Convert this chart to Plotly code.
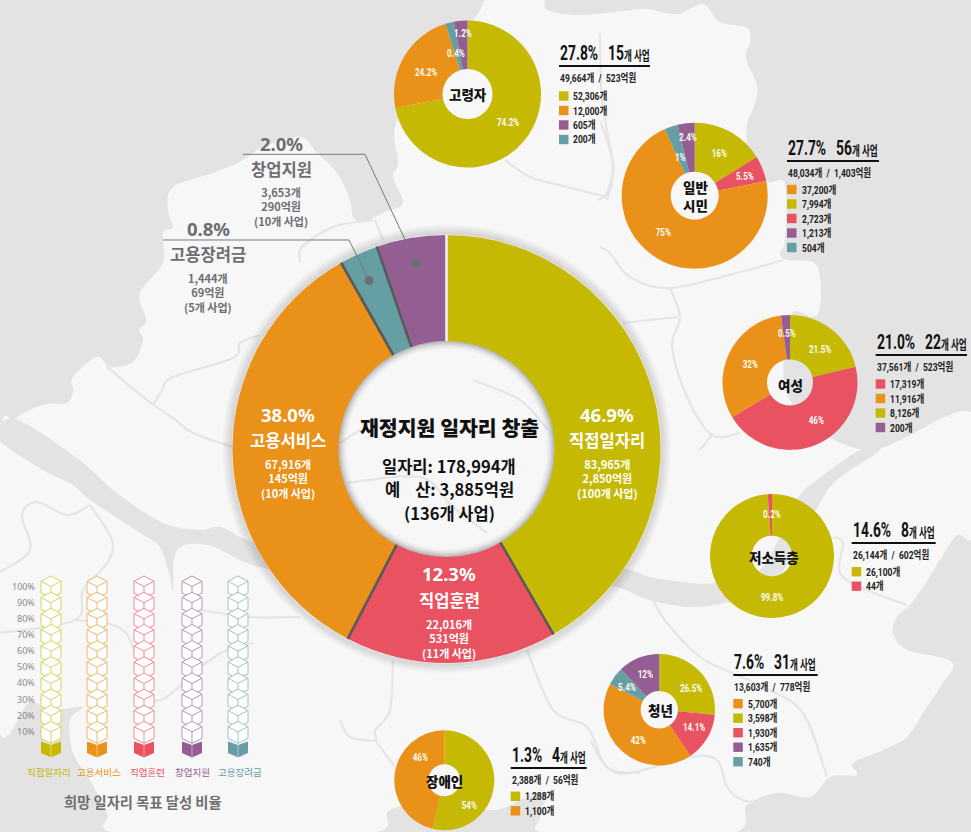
import math
import plotly.graph_objects as go

W, H = 971, 832
KR = "Noto Sans CJK KR"
NARROW = "Liberation Sans Narrow, Roboto, Noto Sans CJK KR"
YEL, ORG, RED, PUR, TEA = "#c5b904", "#e99118", "#e95260", "#945e92", "#659fa4"
GREY = "#6d6e71"

# ---- main ring: drawn sweep of each sector (degrees)
main_names = ["직접일자리", "직업훈련", "고용서비스", "고용장려금", "창업지원"]
main_sweep = [150, 57.5, 123, 10.5, 19]
main_colors = [YEL, RED, ORG, TEA, PUR]
main_pct = ["46.9%", "12.3%", "38.0%", "0.8%", "2.0%"]
main_jobs = ["83,965개", "22,016개", "67,916개", "1,444개", "3,653개"]
main_budget = ["2,850억원", "531억원", "145억원", "69억원", "290억원"]
main_projects = ["(100개 사업)", "(11개 사업)", "(10개 사업)", "(5개 사업)", "(10개 사업)"]

# ---- small pies: drawn sweeps in degrees, and printed labels
goryeong_sweep = [259, 83.6, 6.7, 10.7]
ilban_sweep = [58, 20.4, 257.4, 10.6, 13.6]
yeoseong_sweep = [76.5, 162.6, 113.2, 7.7]
jeoso_sweep = [356, 4]
cheongnyeon_sweep = [95.1, 51, 151.5, 18.9, 43.5]
jangae_sweep = [193.9, 166.1]

SL = "&nbsp;&nbsp;/&nbsp;&nbsp;"
pies = [
    dict(name="고령자", c=(467.5, 94), r=73.5, rh=25, sweep=goryeong_sweep, col=[YEL, ORG, TEA, PUR],
         pct=["74.2%", "24.2%", "0.4%", "1.2%"], pos=[(508, 122), (426, 72), (456, 53), (463, 34)],
         lab=[("고령자", 468, 94)], head=(559, 53, 650), top=("27.8%", "15", 48), jobs="49,664개" + SL + "523억원",
         sw=96, tx=572, leg=[("52,306개", YEL), ("12,000개", ORG), ("605개", PUR), ("200개", TEA)]),
    dict(name="일반시민", c=(694.7, 195.7), r=73, rh=24, sweep=ilban_sweep, col=[YEL, RED, ORG, TEA, PUR],
         pct=["16%", "5.5%", "75%", "1%", "2.4%"], pos=[(719, 153), (745, 177), (663, 232), (680, 157), (688, 137)],
         lab=[("일반<br>시민", 695, 196)], head=(787, 148, 879), top=("27.7%", "56", 48),
         jobs="48,034개" + SL + "1,403억원", sw=189.5, tx=801,
         leg=[("37,200개", ORG), ("7,994개", YEL), ("2,723개", RED), ("1,213개", PUR), ("504개", TEA)]),
    dict(name="여성", c=(790, 382.4), r=67.5, rh=23, sweep=yeoseong_sweep, col=[YEL, RED, ORG, PUR],
         pct=["21.5%", "46%", "32%", "0.5%"], pos=[(820, 350), (816, 420), (750, 364), (787, 333)],
         lab=[("여성", 790, 385)], head=(875.7, 342, 967), top=("21.0%", "22", 48), jobs="37,561개" + SL + "523억원",
         sw=384, tx=889, leg=[("17,319개", RED), ("11,916개", ORG), ("8,126개", YEL), ("200개", PUR)]),
    dict(name="저소득층", c=(772, 556), r=62, rh=20.3, sweep=jeoso_sweep, col=[YEL, RED],
         pct=["0.2%", "99.8%"], pos=[(772, 514), (772, 597)],
         lab=[("저소득층", 774, 557)], head=(851.7, 530, 935.7), top=("14.6%", "8", 48), jobs="26,144개" + SL + "602억원",
         sw=571.7, tx=865, leg=[("26,100개", YEL), ("44개", RED)]),
    dict(name="청년", c=(659.3, 709.7), r=55.7, rh=18.7, sweep=cheongnyeon_sweep, col=[YEL, RED, ORG, TEA, PUR],
         pct=["26.5%", "14.1%", "42%", "5.4%", "12%"], pos=[(691, 688), (694, 727), (638, 740), (627, 687), (645, 674)],
         lab=[("청년", 660, 710)], head=(733.3, 662, 817.7), top=("7.6%", "31", 40), jobs="13,603개" + SL + "778억원",
         sw=703.7, tx=746.7,
         leg=[("5,700개", ORG), ("3,598개", YEL), ("1,930개", RED), ("1,635개", PUR), ("740개", TEA)]),
    dict(name="장애인", c=(444.3, 780.3), r=50, rh=16, sweep=jangae_sweep, col=[YEL, ORG],
         pct=["54%", "46%"], pos=[(469, 805), (420, 757)],
         lab=[("장애인", 444, 781)], head=(510.7, 755, 586.7), top=("1.3%", "4", 40), jobs="2,388개" + SL + "56억원",
         sw=796.3, tx=524, leg=[("1,288개", YEL), ("1,100개", ORG)]),
]

# ---- goal-achievement columns
goal_names = ["직접일자리", "고용서비스", "직업훈련", "창업지원", "고용장려금"]
goal_colors = [YEL, ORG, RED, PUR, TEA]
goal_lines = ["#d9d35f", "#f0b56a", "#ee8d97", "#b795b5", "#a0c3c6"]
goal_ticks = ["100%", "90%", "80%", "70%", "60%", "50%", "40%", "30%", "20%", "10%"]


def X(x): return x / W
def Y(y): return 1 - y / H


def smooth(pts, closed=True):
    """Catmull-Rom curve through map outline points, as an SVG path in paper units."""
    n = len(pts)
    d = f"M{X(pts[0][0]):.5f},{Y(pts[0][1]):.5f}"
    last = n if closed else n - 1
    for i in range(last):
        if closed:
            p0, p1, p2, p3 = pts[(i - 1) % n], pts[i], pts[(i + 1) % n], pts[(i + 2) % n]
        else:
            p0, p1, p2, p3 = pts[max(i - 1, 0)], pts[i], pts[i + 1], pts[min(i + 2, n - 1)]
        c1 = (p1[0] + (p2[0] - p0[0]) / 6, p1[1] + (p2[1] - p0[1]) / 6)
        c2 = (p2[0] - (p3[0] - p1[0]) / 6, p2[1] - (p3[1] - p1[1]) / 6)
        d += f" C{X(c1[0]):.5f},{Y(c1[1]):.5f} {X(c2[0]):.5f},{Y(c2[1]):.5f} {X(p2[0]):.5f},{Y(p2[1]):.5f}"
    return d + (" Z" if closed else "")


def poly(pts):
    return "M" + " L".join(f"{X(a):.5f},{Y(b):.5f}" for a, b in pts) + " Z"


shapes, notes = [], []


def note(text, x, y, size, color="#111", family=KR, weight=700, anchor="center"):
    notes.append(dict(text=text, x=X(x), y=Y(y), xref="paper", yref="paper", showarrow=False, xanchor=anchor,
                      yanchor="middle", align=anchor, borderpad=0,
                      font=dict(family=family, size=size, color=color, weight=weight)))


# ---- map background
land = [(0, 445), (15, 419), (43, 405), (67, 403), (73, 390), (73, 377), (97, 357), (110, 367), (133, 362),
        (143, 340), (139, 330), (146, 320), (140, 293), (163, 263), (163, 233), (173, 227), (168, 210), (173, 187),
        (213, 173), (243, 160), (263, 147), (300, 137), (317, 153), (337, 173), (350, 200), (353, 217), (363, 222),
        (385, 212), (403, 203), (393, 177), (398, 163), (397, 120), (440, 60), (477, 15), (490, -2), (540, -2),
        (547, 10), (575, 15), (605, 13), (630, 10), (648, 9), (677, 14), (703, 4), (720, 22), (747, 28), (750, 42),
        (746, 58), (757, 85), (755, 103), (747, 125), (747, 150), (745, 170), (767, 182), (785, 184), (785, 240),
        (780, 253), (787, 260), (813, 262), (820, 277), (820, 307), (813, 317), (790, 317), (790, 400), (867, 450),
        (973, 413), (973, 532), (957, 535), (940, 560), (923, 587), (910, 605), (897, 617), (893, 633), (907, 650),
        (952, 662), (940, 687), (923, 713), (907, 737), (883, 750), (853, 763), (857, 775), (830, 777), (810, 797),
        (777, 793), (747, 805), (727, 834), (553, 834), (540, 817), (547, 793), (527, 797), (493, 810), (440, 800),
        (390, 810), (363, 834), (127, 834), (107, 813), (90, 780), (73, 753), (70, 720), (83, 707), (50, 710),
        (30, 702), (-2, 723)]
shapes.append(dict(type="path", path=smooth(land), xref="paper", yref="paper", fillcolor="#f7f7f7",
                   line=dict(width=0), layer="below"))
rivers = [
    [(-2, 438), (15, 419), (77, 458), (117, 493), (163, 523), (200, 530), (220, 527), (247, 540), (300, 560),
     (300, 575), (260, 567), (240, 560), (207, 545), (177, 550), (173, 590), (170, 577), (160, 547), (140, 533),
     (90, 500), (73, 485), (43, 470)],
    [(600, 563), (630, 570), (650, 577), (683, 582), (713, 583), (760, 570), (797, 500), (817, 480), (860, 450),
     (880, 450), (837, 480), (817, 508), (770, 590), (730, 602), (690, 607), (650, 600), (617, 587), (590, 585)],
]
for r in rivers:
    shapes.append(dict(type="path", path=smooth(r), xref="paper", yref="paper", fillcolor="#e3e3e3",
                       line=dict(width=0), layer="below"))
roads = [
    [(107, 367), (147, 400), (173, 418), (193, 433), (233, 447)], [(153, 405), (162, 390), (173, 377), (233, 358), (240, 343), (260, 335)],
    [(90, 505), (67, 515), (37, 502), (22, 515), (30, 550), (0, 572)], [(90, 505), (112, 540), (107, 563), (83, 590), (75, 620), (0, 633)],
    [(75, 620), (125, 632), (153, 700), (200, 667), (227, 650), (253, 643)], [(200, 610), (250, 617), (300, 617)],
    [(653, 600), (667, 623), (700, 657), (730, 672), (763, 687), (803, 713), (827, 777)],
    [(590, 740), (607, 767), (630, 773), (690, 757), (717, 760), (727, 787), (743, 800), (777, 805)],
    [(393, 660), (390, 710), (375, 730), (375, 740), (350, 737), (340, 720)], [(375, 740), (395, 767)],
    [(527, 650), (553, 710), (587, 727), (607, 767), (640, 773)], [(833, 537), (843, 543), (840, 573), (867, 590), (907, 605)],
    [(600, 120), (613, 163), (607, 193), (598, 200)], [(600, 247), (610, 253), (630, 277), (670, 288), (740, 272), (783, 260)],
    [(670, 288), (680, 317), (672, 347), (687, 397), (712, 435), (740, 433)], [(623, 323), (677, 317)], [(700, 450), (712, 435)],
    [(300, 262), (302, 247), (333, 227), (373, 220)], [(375, 220), (383, 240)],
    [(600, 33), (602, 100), (613, 167), (607, 200)], [(505, 160), (530, 177), (567, 187), (607, 197)],
    [(473, 380), (520, 400), (548, 430)], [(347, 483), (420, 477), (453, 507), (487, 533)], [(340, 443), (360, 430)],
]
for r in roads:
    shapes.append(dict(type="path", path=smooth(r, False), xref="paper", yref="paper", fillcolor="rgba(0,0,0,0)",
                       line=dict(color="#e5e5e5", width=2.2), layer="below"))

# ---- ring shadow
CX, CY, R, RH = 446.5, 449, 214, 108
for i in range(1, 11):
    a = 0.11 * (1 - i / 11)
    shapes.append(dict(type="circle", xref="paper", yref="paper", x0=X(CX - R - i), x1=X(CX + R + i),
                       y0=Y(CY + R + i), y1=Y(CY - R - i), line=dict(color=f"rgba(0,0,0,{a:.3f})", width=1.5),
                       layer="below"))
for i in range(0, 10):
    a = 0.2 * (1 - i / 10) ** 2
    shapes.append(dict(type="circle", xref="paper", yref="paper", x0=X(CX - RH + i), x1=X(CX + RH - i),
                       y0=Y(CY + RH - i), y1=Y(CY - RH + i), line=dict(color=f"rgba(0,0,0,{a:.3f})", width=1.5),
                       layer="below"))

# ---- pies
traces = [go.Pie(values=main_sweep, labels=main_names, sort=False, direction="clockwise", rotation=0,
                 hole=RH / R, textinfo="none", hoverinfo="label", showlegend=False,
                 marker=dict(colors=main_colors, line=dict(width=0)),
                 domain=dict(x=[X(CX - R), X(CX + R)], y=[Y(CY + R), Y(CY - R)]))]
for p in pies:
    (cx, cy), r = p["c"], p["r"]
    traces.append(go.Pie(values=p["sweep"], labels=p["pct"], sort=False, direction="clockwise", rotation=0,
                         hole=p["rh"] / r, textinfo="none", hoverinfo="label", showlegend=False,
                         marker=dict(colors=p["col"], line=dict(width=0)),
                         domain=dict(x=[X(cx - r), X(cx + r)], y=[Y(cy + r), Y(cy - r)])))
    for t, (x, y) in zip(p["pct"], p["pos"]):
        note(t, x, y, 11, "#fbfbf0", NARROW)
    for t, x, y in p["lab"]:
        note(t, x, y, 13.5, "#111", weight=900)
    hx, hy, hend = p["head"]
    note(p["top"][0], hx, hy, 21, "#111", NARROW, anchor="left")
    note(f'{p["top"][1]}<span style="font-size:13px">개 사업</span>', hx + p["top"][2], hy, 21, "#111", NARROW, anchor="left")
    shapes.append(dict(type="rect", xref="paper", yref="paper", x0=X(hx), x1=X(hend), y0=Y(hy + 14), y1=Y(hy + 12),
                       fillcolor="#111", line=dict(width=0), layer="above"))
    note(p["jobs"], hx, hy + 25, 11.5, "#222", NARROW, anchor="left")
    for i, (t, c) in enumerate(p["leg"]):
        ly = p["sw"] + i * 14.5
        shapes.append(dict(type="rect", xref="paper", yref="paper", x0=X(hx), x1=X(hx + 9.5), y0=Y(ly + 4.7), y1=Y(ly - 4.7),
                           fillcolor=c, line=dict(width=0), layer="above"))
        note(t, p["tx"], ly, 11.5, "#222", NARROW, anchor="left")

# ---- separators on the main ring, placed from its sweeps
cum = 0
for i, s in enumerate(main_sweep):
    cum += s
    a = math.radians(cum)
    light = i == len(main_sweep) - 1
    x0, y0 = CX + RH * math.sin(a), CY - RH * math.cos(a)
    x1, y1 = CX + R * math.sin(a), CY - R * math.cos(a)
    shapes.append(dict(type="line", xref="paper", yref="paper", x0=X(x0), y0=Y(y0), x1=X(x1), y1=Y(y1),
                       line=dict(color="#f0f0f0" if light else "#5a5a5c", width=2.6), layer="above"))

# ---- leader lines
for pts, dot in [([(243, 154.3), (365, 154.3), (416, 263)], (416, 263)), ([(163, 240), (349, 240), (369, 280)], (369, 280.5))]:
    d = "M" + " L".join(f"{X(a):.5f},{Y(b):.5f}" for a, b in pts)
    shapes.append(dict(type="path", path=d, xref="paper", yref="paper", line=dict(color="#77787b", width=1), layer="above"))
    shapes.append(dict(type="circle", xref="paper", yref="paper", x0=X(dot[0] - 4.5), x1=X(dot[0] + 4.5), y0=Y(dot[1] + 4.5),
                       y1=Y(dot[1] - 4.5), fillcolor=GREY, line=dict(width=0), layer="above"))

# ---- ring text
note("재정지원 일자리 창출", 449, 427, 20.5, weight=900)
note("일자리: 178,994개", 449, 466, 16.5)
note("예&nbsp;&nbsp;&nbsp;&nbsp;산: 3,885억원", 449, 489, 16.5)
note("(136개 사업)", 449, 513, 16.5)
ring_text = [(0, 607, (414, 440, 478.5), "#ffffff"), (2, 288, (414, 440, 478.5), "#ffffff"),
             (1, 449, (573, 600, 638), "#ffffff"), (4, 281, (143, 169, 206.5), GREY),
             (3, 208, (228, 254, 292), GREY)]
for i, x, ys, c in ring_text:
    note(main_pct[i], x, ys[0], 18.5, c, "Noto Sans, Noto Sans CJK KR")
    note(main_names[i], x, ys[1], 16.6, c)
    note(f"{main_jobs[i]}<br>{main_budget[i]}<br>{main_projects[i]}", x, ys[2], 11, c)

# ---- goal columns
col_x = [51, 97, 144, 192, 238]
lab_x = [49, 99, 147, 192, 240]
STEP = 16.15
for cx, lx, name, fill, ln in zip(col_x, lab_x, goal_names, goal_colors, goal_lines):
    for k in range(10):
        t = 576 + k * STEP
        hexa = [(cx, t), (cx + 10, t + 5.3), (cx + 10, t + 17), (cx, t + 22), (cx - 10, t + 17), (cx - 10, t + 5.3)]
        shapes.append(dict(type="path", path=poly(hexa), xref="paper", yref="paper", fillcolor="#ffffff",
                           line=dict(color=ln, width=1), layer="below"))
        v = "M" + " L".join(f"{X(a):.5f},{Y(b):.5f}" for a, b in [(cx - 10, t + 5.3), (cx, t + 10.5), (cx + 10, t + 5.3)])
        shapes.append(dict(type="path", path=v, xref="paper", yref="paper", line=dict(color=ln, width=1), layer="below"))
        v = "M" + " L".join(f"{X(a):.5f},{Y(b):.5f}" for a, b in [(cx, t + 10.5), (cx, t + 22)])
        shapes.append(dict(type="path", path=v, xref="paper", yref="paper", line=dict(color=ln, width=1), layer="below"))
    t = 738
    hexa = [(cx, t + 7), (cx + 10, t + 3.5), (cx + 10, t + 15), (cx, t + 19.5), (cx - 10, t + 15), (cx - 10, t + 3.5)]
    shapes.append(dict(type="path", path=poly(hexa), xref="paper", yref="paper", fillcolor=fill, line=dict(width=0), layer="below"))
    v = "M" + " L".join(f"{X(a):.5f},{Y(b):.5f}" for a, b in [(cx, t + 7), (cx, t + 19.5)])
    shapes.append(dict(type="path", path=v, xref="paper", yref="paper", line=dict(color="rgba(255,255,255,0.45)", width=1), layer="below"))
    note(name, lx, 772, 9.5, fill, weight=400)
for k, t in enumerate(goal_ticks):
    note(t, 36, 586 + k * 16.15, 9, "#8a8a8a", "Noto Sans", weight=400, anchor="right")
note("희망 일자리 목표 달성 비율", 143, 801, 14.3, GREY)

# The printed headers use a condensed face that is not installed: narrow those real texts horizontally.
CONDENSE = """
document.body.style.margin='0';document.body.style.overflow='hidden';
document.querySelectorAll('.annotation-text').forEach(function(el){
  if((el.style.fontFamily||'').indexOf('Narrow')<0){return;}
  var b=el.getBBox(), a=el.style.textAnchor||el.getAttribute('text-anchor')||'start';
  var s=parseFloat(el.style.fontSize)>=15?0.66:0.74;
  var o=(a==='middle')?b.x+b.width/2:b.x;
  el.setAttribute('transform','translate('+o+' 0) scale('+s+' 1) translate('+(-o)+' 0)');
});
"""

fig = go.Figure(traces)
fig.update_layout(width=W, height=H, margin=dict(l=0, r=0, t=0, b=0), paper_bgcolor="#e3e3e3",
                  plot_bgcolor="rgba(0,0,0,0)", showlegend=False, shapes=shapes, annotations=notes)
fig.write_html("out.html", config=dict(displayModeBar=False), post_script=CONDENSE)
